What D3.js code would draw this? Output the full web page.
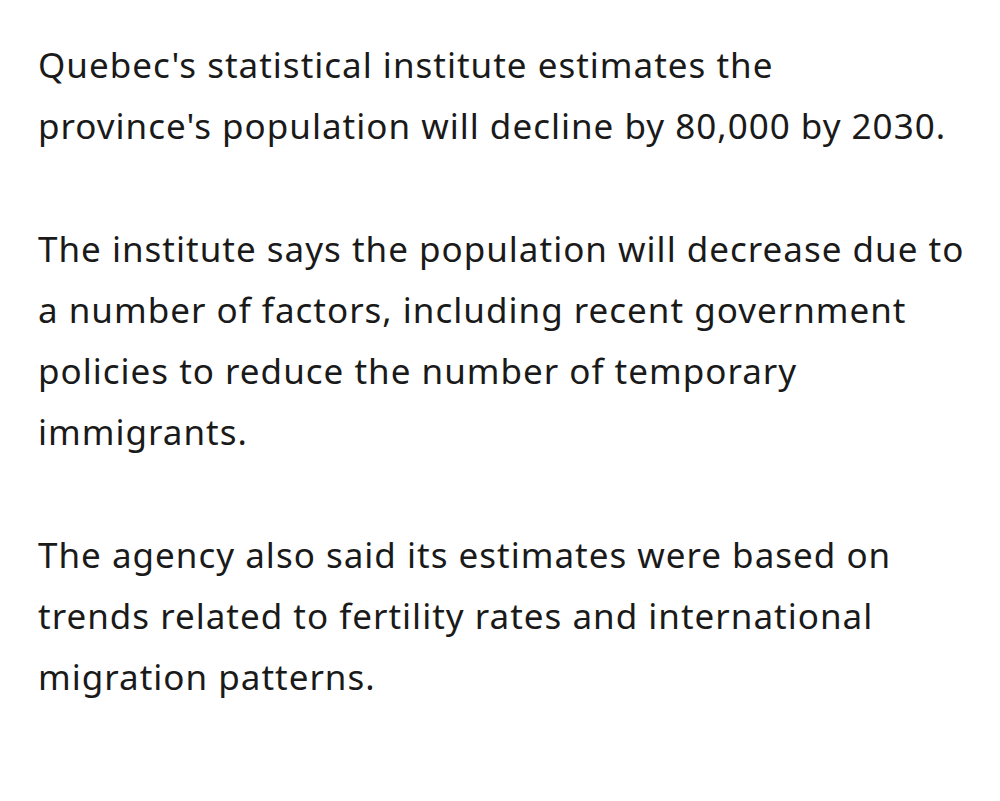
<!DOCTYPE html>
<html>
<head>
<style>
  body { margin: 0; background: #fff; }
  svg { font-family: "Noto Sans", "Open Sans", sans-serif; }
</style>
</head>
<body>
<script src="https://d3js.org/d3.v7.min.js"></script>
<div id="page"></div>
<script>
  var paragraph1 = ["Quebec's statistical institute estimates the",
                    "province's population will decline by 80,000 by 2030."];
  var paragraph2 = ["The institute says the population will decrease due to",
                    "a number of factors, including recent government",
                    "policies to reduce the number of temporary",
                    "immigrants."];
  var paragraph3 = ["The agency also said its estimates were based on",
                    "trends related to fertility rates and international",
                    "migration patterns."];
  var paragraphs = [paragraph1, paragraph2, paragraph3];

  var width = 1000, height = 801, left = 38, lineH = 61.2, gap = 1.0;

  var svg = d3.select("#page").append("svg")
      .attr("width", width).attr("height", height);

  var lines = [], row = 0;
  paragraphs.forEach(function(p, i) {
    if (i > 0) row += 1 + gap;
    p.forEach(function(t, j) { lines.push({text: t, row: row}); row += 1; });
    row -= 1;
  });

  var y = d3.scaleLinear().domain([0, 1]).range([78, 78 + lineH]);

  svg.selectAll("text").data(lines).enter().append("text")
      .attr("x", left)
      .attr("y", function(d) { return y(d.row); })
      .attr("font-size", "35px")
      .attr("letter-spacing", "1px")
      .attr("fill", "#1a1a1a")
      .text(function(d) { return d.text; });
</script>
</body>
</html>
